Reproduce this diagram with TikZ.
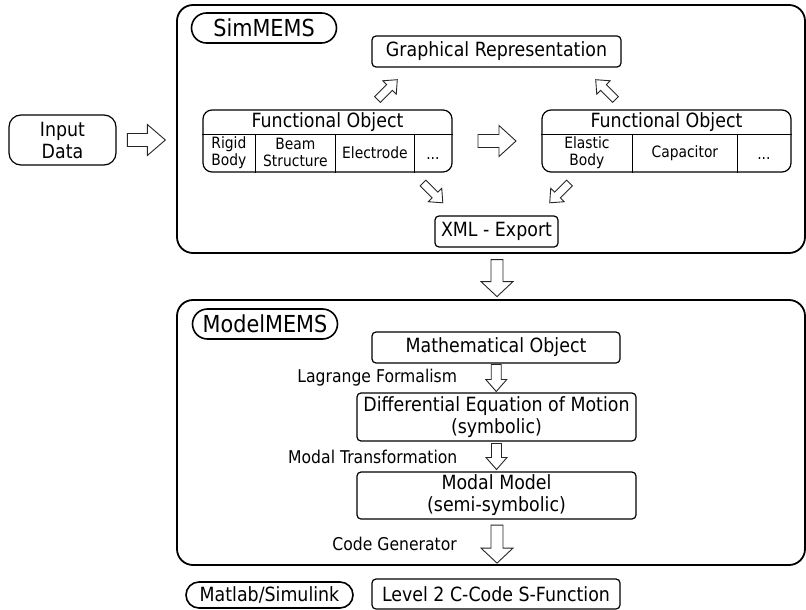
\documentclass[tikz,border=0pt]{standalone}
\usepackage{fontspec}
\setmainfont[FakeStretch=0.888]{DejaVu Sans}
\usetikzlibrary{calc,shapes.misc}
\newcommand{\blockarr}[6]{% center, angle, length, shaft half, head half, head length
  \begin{scope}[shift={#1}, rotate=#2]
    \draw[blockarrow] ({-#3/2},{-#4}) -- ({#3/2-#6},{-#4}) -- ({#3/2-#6},{-#5}) -- ({#3/2},0)
      -- ({#3/2-#6},{#5}) -- ({#3/2-#6},{#4}) -- ({-#3/2},{#4}) -- cycle;
  \end{scope}}
\tikzset{
  mainfont/.style={font=\fontsize{19.6}{22}\selectfont},
  box/.style={draw, line width=1.2pt, rounded corners=4pt, inner sep=0pt, align=center, mainfont},
  outerbox/.style={draw, line width=1.8pt, rounded corners=16pt, inner sep=0pt},
  pill/.style={draw, line width=1.6pt, rounded rectangle, inner sep=0pt, font=\fontsize{23.4}{26}\selectfont},
  smallpill/.style={draw, line width=1.6pt, rounded rectangle, inner sep=0pt, mainfont},
  table/.style={draw, line width=1.2pt, rounded corners=9pt, inner sep=0pt},
  tline/.style={line width=1.2pt},
  cell/.style={inner sep=0pt, align=center, font=\fontsize{15.6}{17}\selectfont},
  lbl/.style={inner sep=0pt, anchor=east, font=\fontsize{17.6}{20}\selectfont},
  blockarrow/.style={draw=black!85, line width=0.9pt, fill=white, line join=miter},
}
\begin{document}
\begin{tikzpicture}[x=1pt,y=-1pt]
\useasboundingbox (0,0) rectangle (806,610);

% outer frames
\node[outerbox, minimum width=628, minimum height=248] (sim) at (491,129) {};
\node[outerbox, minimum width=628, minimum height=265] (mm) at (491,432.5) {};

% SimMEMS part
\node[pill, minimum width=145, minimum height=30] (simlbl) at (264,28) {SimMEMS};
\node[box, minimum width=249, minimum height=31] (graph) at (496.5,51.5) {Graphical Representation};
\node[box, rounded corners=12pt, minimum width=107, minimum height=50] (input) at (62.5,140) {Input\\Data};
\node[box, minimum width=123, minimum height=31] (xml) at (496.5,231.5) {XML - Export};

% left functional object
\node[table, minimum width=249, minimum height=62] (fo1) at (327.5,141) {};
\draw[tline] ($(fo1.north west)+(0,25)$) -- ($(fo1.north east)+(0,25)$);
\draw[tline] ($(fo1.north west)+(53,25)$) -- ($(fo1.south west)+(53,0)$);
\draw[tline] ($(fo1.north west)+(133,25)$) -- ($(fo1.south west)+(133,0)$);
\draw[tline] ($(fo1.north west)+(212,25)$) -- ($(fo1.south west)+(212,0)$);
\node[inner sep=0pt, mainfont] (fo1h) at ($(fo1.north)+(0,12.5)$) {Functional Object};
\node[cell] (c11) at ($(fo1.north west)+(26.5,43.5)$) {Rigid\\Body};
\node[cell] (c12) at ($(fo1.north west)+(93,43.5)$) {Beam\\Structure};
\node[cell] (c13) at ($(fo1.north west)+(172.5,43.5)$) {Electrode};
\node[cell, anchor=base] (c14) at ($(fo1.north west)+(230.5,50.5)$) {...};

% right functional object
\node[table, minimum width=249, minimum height=62] (fo2) at (666.5,141) {};
\draw[tline] ($(fo2.north west)+(0,25)$) -- ($(fo2.north east)+(0,25)$);
\draw[tline] ($(fo2.north west)+(91,25)$) -- ($(fo2.south west)+(91,0)$);
\draw[tline] ($(fo2.north west)+(196,25)$) -- ($(fo2.south west)+(196,0)$);
\node[inner sep=0pt, mainfont] (fo2h) at ($(fo2.north)+(0,12.5)$) {Functional Object};
\node[cell] (c21) at ($(fo2.north west)+(45.5,43.5)$) {Elastic\\Body};
\node[cell] (c22) at ($(fo2.north west)+(143.5,43.5)$) {Capacitor};
\node[cell, anchor=base] (c23) at ($(fo2.north west)+(222.5,50.5)$) {...};

% ModelMEMS part
\node[pill, minimum width=145, minimum height=30] (mmlbl) at (265,324) {ModelMEMS};
\node[box, minimum width=248, minimum height=31] (math) at (496,347.5) {Mathematical Object};
\node[box, minimum width=279, minimum height=48] (diff) at (496.5,417) {Differential Equation of Motion\\(symbolic)};
\node[box, minimum width=279, minimum height=47] (modal) at (496.5,495.5) {Modal Model\\(semi-symbolic)};

% bottom
\node[smallpill, minimum width=167, minimum height=26] (matlab) at (269.5,595) {Matlab/Simulink};
\node[box, minimum width=248, minimum height=30] (sfun) at (496,594) {Level 2 C-Code S-Function};

% arrow centres
\coordinate (a1) at ($(input.east)!0.5!(input.east -| sim.west)$);
\coordinate (a2) at ($(fo1.east)!0.5!(fo2.west)$);
\coordinate (a3) at ($(graph.south west)+(16,22)$);
\coordinate (a4) at ($(graph.south east)+(-16,22)$);
\coordinate (a5) at ($(xml.north west)+(-1.5,-22.5)$);
\coordinate (a6) at ($(xml.north east)+(1,-22.5)$);
\coordinate (a7) at ($(xml.south)+(0.5,30.5)$);
\coordinate (a8) at ($(math.south)!0.5!(diff.north)$);
\coordinate (a9) at ($(diff.south)!0.5!(modal.north)$);
\coordinate (a10) at ($(modal.south)+(0.5,24.5)$);

\blockarr{(a1)}{0}{38}{6.5}{15.5}{18}
\blockarr{(a2)}{0}{38}{6.5}{15.5}{17}
\blockarr{(a3)}{45}{28}{4}{9.5}{11}
\blockarr{(a4)}{135}{28}{4}{9.5}{11}
\blockarr{(a5)}{-45}{28}{4}{9.5}{11}
\blockarr{(a6)}{-135}{28}{4}{9.5}{11}
\blockarr{(a7)}{-90}{37}{6}{16}{15}
\blockarr{(a8)}{-90}{27}{5}{10.5}{12}
\blockarr{(a9)}{-90}{26}{5}{10.5}{12}
\blockarr{(a10)}{-90}{38}{6}{16}{15}

% labels
\node[lbl] (l1) at ($(a8)+(-39,0)$) {Lagrange Formalism};
\node[lbl] (l2) at ($(a9)+(-39,0)$) {Modal Transformation};
\node[lbl] (l3) at ($(a10)+(-40,0)$) {Code Generator};
\end{tikzpicture}
\end{document}
